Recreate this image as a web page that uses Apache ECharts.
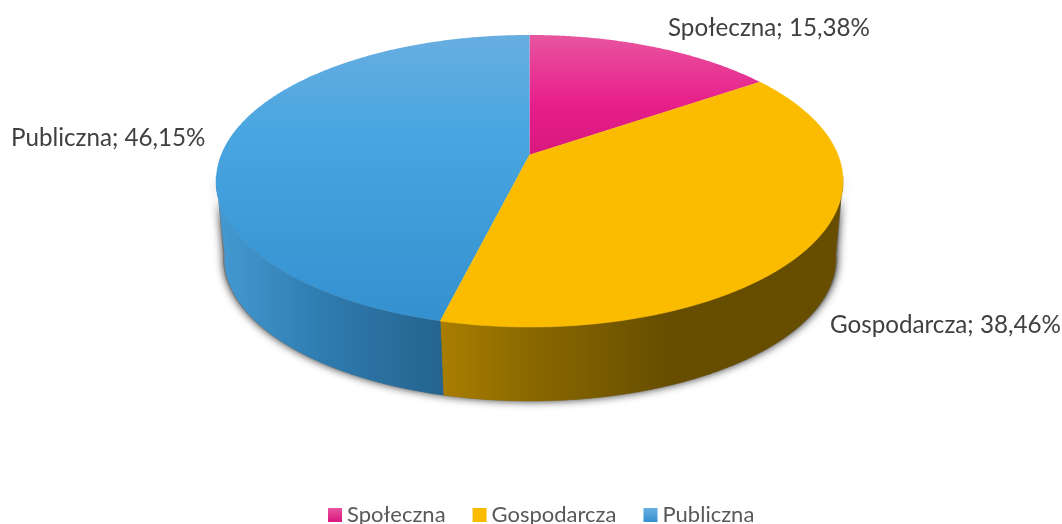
<!DOCTYPE html>
<html><head><meta charset="utf-8">
<style>html,body{margin:0;padding:0;background:#fff}#c{width:1062px;height:524px}</style>
<script src="https://cdn.jsdelivr.net/npm/echarts@6/dist/echarts.min.js"></script>
</head><body><div id="c"></div>
<script>
const categories = ['Społeczna', 'Gospodarcza', 'Publiczna'];
const shares = [15.38, 38.46, 46.15];

const FONT = 'Lato';
const apex = {x: 529.5, y: 155}, a = 308.5, b = 141.4, k = 0.178;
const wallScale = 0.975, wallApexY = 233.3, wallDX = 0.8;
const shadowScale = 0.98, shadowApexY = 232.6;
const total = shares.reduce((s, v) => s + v, 0);

function rim(t, s, y0, dx) {
  const u = Math.sin(t), v = Math.cos(t), w = 1 + k * v;
  return [apex.x + (dx || 0) + s * a * u / w, y0 - s * b * v / w];
}
function arc(t0, t1, s, y0, dx) {
  const n = Math.max(2, Math.ceil(Math.abs(t1 - t0) * 120)), pts = [];
  for (let i = 0; i <= n; i++) pts.push(rim(t0 + (t1 - t0) * i / n, s, y0, dx));
  return pts;
}
function lin(x, y, x2, y2, stops) {
  return {type: 'linear', x, y, x2, y2, global: true,
    colorStops: stops.map(p => ({offset: p[0], color: p[1]}))};
}
const topFills = [
  lin(0, 35, 0, 155, [[0, '#e8559f'], [0.55, '#e7208c'], [1, '#d9167e']]),
  '#fbbc00',
  lin(0, 35, 0, 322, [[0, '#68aee0'], [0.33, '#49a6e0'], [1, '#3490cf']])
];
const wallFills = [
  '#8a1050',
  lin(442, 0, 670, 0, [[0, '#a87d00'], [0.4, '#8a6800'], [1, '#664d00']]),
  lin(220, 0, 442, 0, [[0, '#4499d2'], [0.45, '#2f7cb0'], [1, '#25648f']])
];
const labelAnchors = [[668, 28], [830, 325], [11, 138]];

function renderSlice(params, api) {
  const i = params.seriesIndex, val = api.value(0);
  const before = shares.slice(0, i).reduce((s, v) => s + v, 0);
  const t0 = before / total * 2 * Math.PI, t1 = (before + val) / total * 2 * Math.PI;
  const children = [];
  const lo = Math.max(t0, 1.72), hi = Math.min(t1, 2 * Math.PI - 1.72);
  if (hi > lo) {
    const upper = arc(lo, hi, 1, apex.y);
    const lower = arc(hi, lo, wallScale, wallApexY, wallDX);
    children.push({type: 'polygon', z2: 2, shape: {points: upper.concat(lower)},
      style: {fill: wallFills[i], stroke: wallFills[i], lineWidth: 0.4}});
    const shadow = arc(lo, hi, shadowScale, shadowApexY, wallDX).concat(arc(hi, lo, 1, apex.y));
    children.push({type: 'polygon', z2: 1, shape: {points: shadow},
      style: {fill: '#777', shadowBlur: 9, shadowColor: 'rgba(0,0,0,0.8)'}});
  }
  const top = [[apex.x, apex.y]].concat(arc(t0, t1, 1, apex.y));
  children.push({type: 'polygon', z2: 3 + (i === 1 ? 1 : 0), shape: {points: top},
    style: {fill: topFills[i], stroke: i === 1 ? '#fbbc00' : null, lineWidth: i === 1 ? 0.5 : 0}});
  children.push({type: 'text', z2: 6, x: labelAnchors[i][0], y: labelAnchors[i][1],
    style: {text: categories[i] + '; ' + val.toFixed(2).replace('.', ',') + '%',
      font: '24.2px ' + FONT, fill: '#404040', textAlign: 'left', textVerticalAlign: 'middle'}});
  return {type: 'group', children};
}

const legendIcons = [
  {type: 'linear', x: 0, y: 0, x2: 0, y2: 1, colorStops: [{offset: 0, color: '#e8559f'}, {offset: 1, color: '#d9167e'}]},
  '#fbbc00',
  {type: 'linear', x: 0, y: 0, x2: 0, y2: 1, colorStops: [{offset: 0, color: '#68aee0'}, {offset: 1, color: '#3490cf'}]}
];

const chart = echarts.init(document.getElementById('c'), null, {renderer: 'canvas'});
chart.setOption({
  animation: false,
  backgroundColor: '#fff',
  legend: {
    left: 328, top: 504, itemWidth: 14, itemHeight: 14, itemGap: 27, padding: 0, icon: 'rect', selectedMode: false,
    textStyle: {fontFamily: FONT, fontSize: 22, color: '#595959', padding: [0, 0, 3, 0]},
    data: categories.map((n, i) => ({name: n, itemStyle: {color: legendIcons[i]}}))
  },
  series: categories.map((n, i) => ({
    type: 'custom', name: n, coordinateSystem: 'none', silent: true,
    renderItem: renderSlice, data: [[shares[i]]]
  }))
});
</script></body></html>
